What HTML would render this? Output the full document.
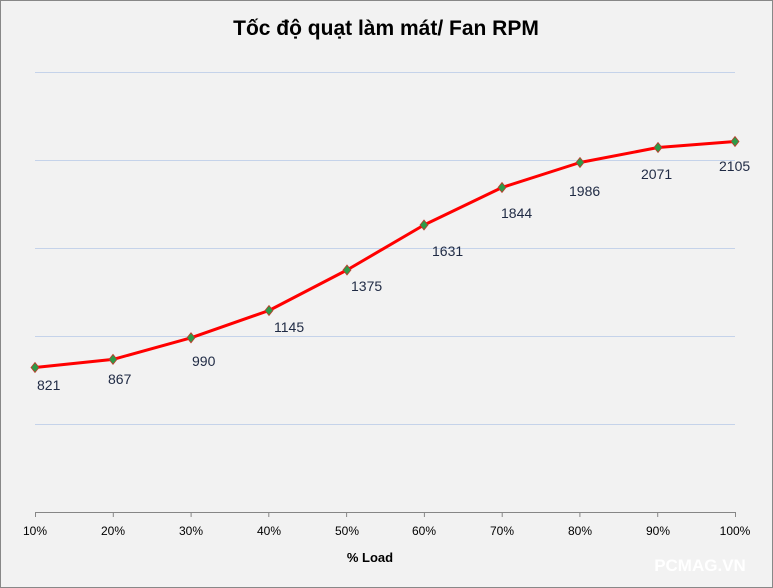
<!DOCTYPE html>
<html><head><meta charset="utf-8"><style>
html,body{margin:0;padding:0;background:#f2f2f2}
svg{display:block}
text{font-family:"Liberation Sans","DejaVu Sans",sans-serif}
</style></head><body>
<svg width="773" height="588" viewBox="0 0 773 588" xmlns="http://www.w3.org/2000/svg">
<rect x="0.5" y="0.5" width="772" height="587" fill="#f2f2f2" stroke="#888"/>
<text x="386" y="35" text-anchor="middle" font-size="21" font-weight="bold" fill="#000">Tốc độ quạt làm mát/ Fan RPM</text>
<g stroke="#c5d3ea" stroke-width="1">
<line x1="35" y1="72.5" x2="735" y2="72.5"/>
<line x1="35" y1="160.5" x2="735" y2="160.5"/>
<line x1="35" y1="248.5" x2="735" y2="248.5"/>
<line x1="35" y1="336.5" x2="735" y2="336.5"/>
<line x1="35" y1="424.5" x2="735" y2="424.5"/>
</g>
<line x1="35" y1="512.5" x2="735" y2="512.5" stroke="#868686"/>
<g stroke="#868686">
<line x1="35.5" y1="512" x2="35.5" y2="517"/><line x1="113.3" y1="512" x2="113.3" y2="517"/><line x1="191.1" y1="512" x2="191.1" y2="517"/><line x1="268.8" y1="512" x2="268.8" y2="517"/><line x1="346.6" y1="512" x2="346.6" y2="517"/><line x1="424.4" y1="512" x2="424.4" y2="517"/><line x1="502.2" y1="512" x2="502.2" y2="517"/><line x1="579.9" y1="512" x2="579.9" y2="517"/><line x1="657.7" y1="512" x2="657.7" y2="517"/><line x1="735.5" y1="512" x2="735.5" y2="517"/>
</g>
<g font-size="12" fill="#000" text-anchor="middle">
<text x="35" y="535">10%</text><text x="113" y="535">20%</text><text x="191" y="535">30%</text><text x="269" y="535">40%</text><text x="347" y="535">50%</text><text x="424" y="535">60%</text><text x="502" y="535">70%</text><text x="580" y="535">80%</text><text x="658" y="535">90%</text><text x="735" y="535">100%</text>
</g>
<text x="370" y="562" text-anchor="middle" font-size="13" font-weight="bold">% Load</text>
<polyline fill="none" stroke="#ff0000" stroke-width="3" stroke-linejoin="round"
points="35,367.5 113,359.4 191,337.8 269,310.5 347,270 424,225 502,187.5 580,162.5 658,147.5 735,141.5"/>
<g fill="#2e9a48" stroke="#c0392b" stroke-width="0.8">
<path d="M35,362.5 l4,5 l-4,5 l-4,-5z"/><path d="M113,354.4 l4,5 l-4,5 l-4,-5z"/><path d="M191,332.8 l4,5 l-4,5 l-4,-5z"/><path d="M269,305.5 l4,5 l-4,5 l-4,-5z"/><path d="M347,265 l4,5 l-4,5 l-4,-5z"/><path d="M424,220 l4,5 l-4,5 l-4,-5z"/><path d="M502,182.5 l4,5 l-4,5 l-4,-5z"/><path d="M580,157.5 l4,5 l-4,5 l-4,-5z"/><path d="M658,142.5 l4,5 l-4,5 l-4,-5z"/><path d="M735,136.5 l4,5 l-4,5 l-4,-5z"/>
</g>
<g font-size="14" fill="#1f2a44">
<text x="37" y="390">821</text><text x="108" y="384">867</text><text x="192" y="366">990</text><text x="274" y="332">1145</text><text x="351" y="291">1375</text><text x="432" y="256">1631</text><text x="501" y="218">1844</text><text x="569" y="196">1986</text><text x="641" y="179">2071</text><text x="719" y="171">2105</text>
</g>
<text x="700" y="571" text-anchor="middle" font-size="17" font-weight="bold" fill="#ffffff">PCMAG.VN</text>
</svg>
</body></html>
